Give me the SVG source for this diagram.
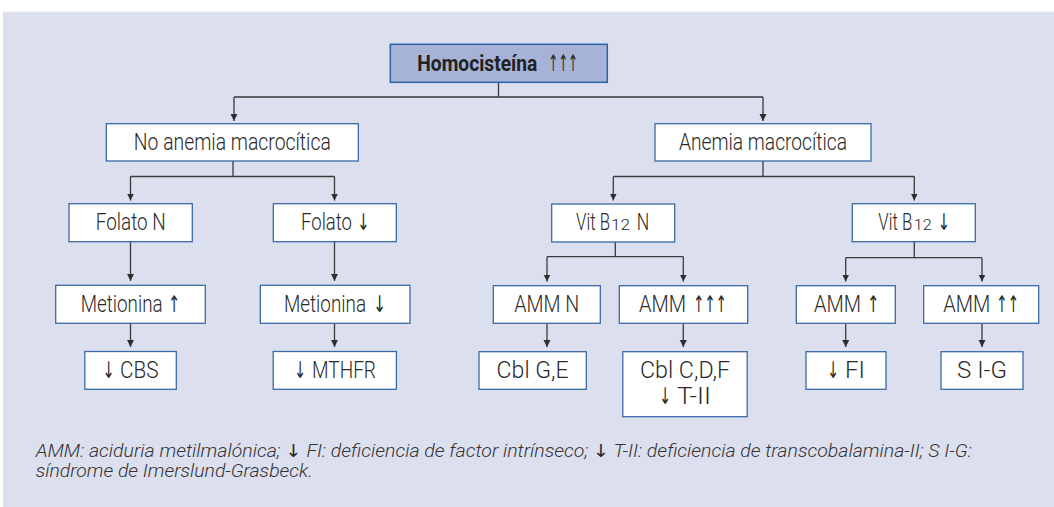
<svg xmlns="http://www.w3.org/2000/svg" width="1054" height="507" viewBox="0 0 1054 507">
<style>
.bg{fill:#dcdfee}
.box{fill:#ffffff;stroke:#3b6aa8;stroke-width:1.3}
.top{fill:#a6b3d6;stroke:#2c62a6;stroke-width:1.5}
.t{font-family:Roboto,"Liberation Sans",Arial,sans-serif;font-weight:300;font-size:23px;fill:#2a2a2a;text-anchor:middle}
.l{text-anchor:start}
.b{font-family:Roboto,"Liberation Sans",Arial,sans-serif;font-weight:bold;font-size:22px;fill:#222222}
.sub{font-size:15px}
.ar{font-family:"DejaVu Sans",sans-serif;font-weight:normal;font-style:normal;fill:#2a2a2a}
.cap{font-family:Roboto,"Liberation Sans",Arial,sans-serif;font-weight:300;font-size:18px;font-style:italic;fill:#333333}
.c{fill:none;stroke:#3a3a3a;stroke-width:1.3}
.a{marker-end:url(#arr)}
</style>
<defs>
<marker id="arr" markerUnits="userSpaceOnUse" markerWidth="8" markerHeight="8" refX="7" refY="3.5" orient="auto">
<path d="M0,0 L7,3.5 L0,7 z" fill="#2e2e2e"/>
</marker>
</defs>
<rect x="0" y="0" width="1054" height="507" fill="#ffffff"/>
<rect x="3" y="12" width="1051" height="495" class="bg"/>
<line x1="3" y1="12" x2="1054" y2="12" stroke="#e6e7ee" stroke-width="1"/>

<g id="connectors">
<path class="c" d="M498.5,82.3 V97 M234,97 H763"/>
<path class="c a" d="M234,97 V121"/>
<path class="c a" d="M763,97 V121"/>
<path class="c" d="M233,161 V176.5 M130.5,176.5 H334.5"/>
<path class="c a" d="M130.5,176.5 V200.5"/>
<path class="c a" d="M334.5,176.5 V200.5"/>
<path class="c" d="M763,161 V176.5 M613.3,176.5 H914.3"/>
<path class="c a" d="M613.3,176.5 V200.5"/>
<path class="c a" d="M914.3,176.5 V200.5"/>
<path class="c a" d="M130.5,241.7 V281"/>
<path class="c a" d="M334.5,241.7 V281"/>
<path class="c a" d="M130.5,323.3 V347"/>
<path class="c a" d="M334.5,323.3 V347"/>
<path class="c" d="M615.3,242 V256.7 M547,256.7 H683.3"/>
<path class="c a" d="M547,256.7 V281.5"/>
<path class="c a" d="M683.3,256.7 V281.5"/>
<path class="c a" d="M547,323.3 V347"/>
<path class="c a" d="M683.3,323.3 V347"/>
<path class="c" d="M914.3,241.7 V257.7 M845.7,257.7 H982"/>
<path class="c a" d="M845.7,257.7 V281.5"/>
<path class="c a" d="M982,257.7 V281.5"/>
<path class="c a" d="M845.7,323.3 V347"/>
<path class="c a" d="M982,323.3 V347"/>
</g>

<g id="homocisteina">
<rect class="top" x="390.3" y="44.3" width="217" height="38"/>
<text class="b" x="417.3" y="70.7" textLength="120" lengthAdjust="spacingAndGlyphs">Homocisteína</text>
<text class="t l ar" x="548.3" y="70.7" textLength="29.5" lengthAdjust="spacingAndGlyphs">↑↑↑</text>
</g>
<g id="no-anemia">
<rect class="box" x="106.3" y="123.7" width="252" height="37.3"/>
<text class="t" x="232.3" y="150" textLength="197" lengthAdjust="spacingAndGlyphs">No anemia macrocítica</text>
</g>
<g id="anemia">
<rect class="box" x="655" y="123.7" width="216" height="37.3"/>
<text class="t" x="763" y="150" textLength="168" lengthAdjust="spacingAndGlyphs">Anemia macrocítica</text>
</g>
<g id="folato-n">
<rect class="box" x="69" y="203.7" width="123.3" height="38"/>
<text class="t" x="130.7" y="230" textLength="70" lengthAdjust="spacingAndGlyphs">Folato N</text>
</g>
<g id="folato-down">
<rect class="box" x="273.3" y="203.7" width="123" height="38"/>
<text class="t l" x="301" y="230" textLength="51" lengthAdjust="spacingAndGlyphs">Folato</text>
<text class="t l ar" x="357" y="230" textLength="12.5" lengthAdjust="spacingAndGlyphs">↓</text>
</g>
<g id="metionina-up">
<rect class="box" x="55.7" y="285.3" width="149.6" height="38"/>
<text class="t l" x="80.7" y="312" textLength="82" lengthAdjust="spacingAndGlyphs">Metionina</text>
<text class="t l ar" x="168" y="312" textLength="12" lengthAdjust="spacingAndGlyphs">↑</text>
</g>
<g id="metionina-down">
<rect class="box" x="260.3" y="285.3" width="149.7" height="38"/>
<text class="t l" x="284" y="312" textLength="82" lengthAdjust="spacingAndGlyphs">Metionina</text>
<text class="t l ar" x="373" y="312" textLength="13" lengthAdjust="spacingAndGlyphs">↓</text>
</g>
<g id="cbs">
<rect class="box" x="84.8" y="351.5" width="91.5" height="37.8"/>
<text class="t l ar" x="102.5" y="378" textLength="12" lengthAdjust="spacingAndGlyphs">↓</text>
<text class="t l" x="120" y="378" textLength="38.5" lengthAdjust="spacingAndGlyphs">CBS</text>
</g>
<g id="mthfr">
<rect class="box" x="273.2" y="351.5" width="123.2" height="37.8"/>
<text class="t l ar" x="294" y="378" textLength="12" lengthAdjust="spacingAndGlyphs">↓</text>
<text class="t l" x="312" y="378" textLength="64" lengthAdjust="spacingAndGlyphs">MTHFR</text>
</g>
<g id="vitb12-n">
<rect class="box" x="551.7" y="204" width="123" height="38"/>
<text class="t l" x="576" y="230" textLength="34" lengthAdjust="spacingAndGlyphs">Vit B</text>
<text class="t l sub" x="611" y="230" textLength="19" lengthAdjust="spacingAndGlyphs">12</text>
<text class="t l" x="636.7" y="230" textLength="12.5" lengthAdjust="spacingAndGlyphs">N</text>
</g>
<g id="vitb12-down">
<rect class="box" x="852.3" y="203.7" width="123" height="38"/>
<text class="t l" x="878.3" y="230" textLength="34" lengthAdjust="spacingAndGlyphs">Vit B</text>
<text class="t l sub" x="913.7" y="230" textLength="18" lengthAdjust="spacingAndGlyphs">12</text>
<text class="t l ar" x="937.5" y="230" textLength="12.5" lengthAdjust="spacingAndGlyphs">↓</text>
</g>
<g id="amm-n">
<rect class="box" x="493.3" y="285.7" width="107" height="37.6"/>
<text class="t" x="546.7" y="312" textLength="65" lengthAdjust="spacingAndGlyphs">AMM N</text>
</g>
<g id="amm-3">
<rect class="box" x="619.3" y="285.7" width="128.4" height="37.6"/>
<text class="t l" x="639" y="312" textLength="47" lengthAdjust="spacingAndGlyphs">AMM</text>
<text class="t l ar" x="693" y="312" textLength="33.7" lengthAdjust="spacingAndGlyphs">↑↑↑</text>
</g>
<g id="amm-1">
<rect class="box" x="796.3" y="285.7" width="99" height="37.6"/>
<text class="t l" x="814" y="312" textLength="47" lengthAdjust="spacingAndGlyphs">AMM</text>
<text class="t l ar" x="867" y="312" textLength="12.3" lengthAdjust="spacingAndGlyphs">↑</text>
</g>
<g id="amm-2">
<rect class="box" x="923.7" y="285.7" width="115" height="37.6"/>
<text class="t l" x="943.3" y="312" textLength="47" lengthAdjust="spacingAndGlyphs">AMM</text>
<text class="t l ar" x="996" y="312" textLength="23" lengthAdjust="spacingAndGlyphs">↑↑</text>
</g>
<g id="cbl-ge">
<rect class="box" x="479" y="351.7" width="107.3" height="37.6"/>
<text class="t" x="532.6" y="378" textLength="72" lengthAdjust="spacingAndGlyphs">Cbl G,E</text>
</g>
<g id="cbl-cdf">
<rect class="box" x="622.8" y="351.7" width="124.4" height="65"/>
<text class="t" x="685" y="378" textLength="90" lengthAdjust="spacingAndGlyphs">Cbl C,D,F</text>
<text class="t l ar" x="659" y="404" textLength="12" lengthAdjust="spacingAndGlyphs">↓</text>
<text class="t l" x="677" y="404" textLength="34" lengthAdjust="spacingAndGlyphs">T-II</text>
</g>
<g id="fi">
<rect class="box" x="806" y="351.7" width="80" height="37.6"/>
<text class="t l ar" x="827" y="378" textLength="12" lengthAdjust="spacingAndGlyphs">↓</text>
<text class="t l" x="845" y="378" textLength="20" lengthAdjust="spacingAndGlyphs">FI</text>
</g>
<g id="sig">
<rect class="box" x="941" y="351.7" width="82" height="37.6"/>
<text class="t" x="982" y="378" textLength="50" lengthAdjust="spacingAndGlyphs">S I-G</text>
</g>

<g id="caption">
<text class="cap" x="35.7" y="457" textLength="936" lengthAdjust="spacingAndGlyphs">AMM: aciduria metilmalónica; <tspan class="ar">↓</tspan> FI: deficiencia de factor intrínseco; <tspan class="ar">↓</tspan> T-II: deficiencia de transcobalamina-II; S I-G:</text>
<text class="cap" x="35.7" y="476.5" textLength="277" lengthAdjust="spacingAndGlyphs">síndrome de Imerslund-Grasbeck.</text>
</g>
</svg>
